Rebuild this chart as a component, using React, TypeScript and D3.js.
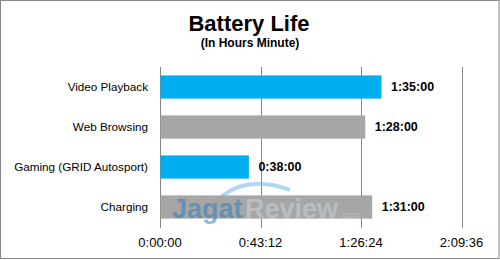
import React from "react";
import * as d3 from "d3";

const categories = ["Video Playback", "Web Browsing", "Gaming (GRID Autosport)", "Charging"];
const minutes = [95, 88, 38, 91];
const barColors = ["#00AEEF", "#A6A6A6", "#00AEEF", "#A6A6A6"];
const tickMinutes = [0, 43.2, 86.4, 129.6];

const fmt = (m: number) => {
  const total = Math.round(m * 60);
  const h = Math.floor(total / 3600);
  const mm = Math.floor((total % 3600) / 60);
  const ss = total % 60;
  return `${h}:${String(mm).padStart(2, "0")}:${String(ss).padStart(2, "0")}`;
};

export default function App() {
  const W = 500, H = 260;
  const left = 160, right = 461.5, top = 67, bottom = 228;
  const x = d3.scaleLinear().domain([0, 129.6]).range([left, right]);
  const y = d3.scaleBand().domain(categories).range([top, bottom - 1]).paddingInner(0.42).paddingOuter(0.21);
  const font = "'Liberation Sans', Arial, sans-serif";
  return (
    <svg width={W} height={H} style={{ position: "fixed", left: 0, top: 0, background: "#fff" }} fontFamily={font}>
      <rect x={0.5} y={0.5} width={498.5} height={258} fill="#fff" stroke="#888" />
      <text x={249} y={31} textAnchor="middle" fontSize={22} fontWeight="bold" fill="#000">Battery Life</text>
      <text x={250} y={47} textAnchor="middle" fontSize={12} fontWeight="bold" fill="#000">(In Hours Minute)</text>
      {tickMinutes.map((t, i) => (
        <g key={i}>
          <line x1={Math.round(x(t)) + 0.5} x2={Math.round(x(t)) + 0.5} y1={top} y2={bottom} stroke="#888" strokeWidth={1} />
          <text x={x(t)} y={247} textAnchor="middle" fontSize={13} fill="#000">{fmt(t)}</text>
        </g>
      ))}
      {categories.map((c, i) => (
        <g key={c}>
          <rect x={x(0) + 0.5} y={y(c)!} width={x(minutes[i]) - x(0)} height={y.bandwidth()} fill={barColors[i]} />
          <text x={148} y={y(c)! + y.bandwidth() / 2} dy="0.35em" textAnchor="end" fontSize={11.7} fill="#000">{c}</text>
          <text x={x(minutes[i]) + 10} y={y(c)! + y.bandwidth() / 2} dy="0.35em" fontSize={12.5} fontWeight="bold" fill="#000">{fmt(minutes[i])}</text>
        </g>
      ))}
      <g opacity={0.55} pointerEvents="none">
        <path d="M 222 196 Q 250 175 290 190" fill="none" stroke="#6fb8e6" strokeWidth={4} />
        <text x={172} y={218} fontSize={27} fontWeight="bold" fill="#2f7fbf">Jagat</text>
        <text x={245} y={218} fontSize={27} fontWeight="bold" fill="#c9d3dc">Review</text>
        <text x={340} y={218} fontSize={9} fill="#c9d3dc">.com</text>
      </g>
    </svg>
  );
}
